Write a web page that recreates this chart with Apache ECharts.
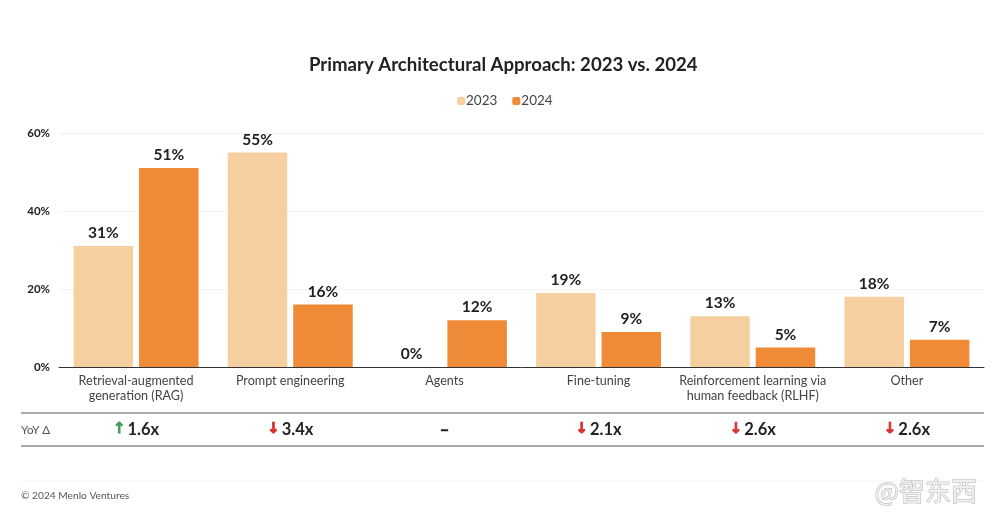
<!DOCTYPE html>
<html>
<head>
<meta charset="utf-8">
<style>html,body{margin:0;padding:0;background:#fff}#main{width:1000px;height:528px}</style>
<script src="https://cdn.jsdelivr.net/npm/echarts@6/dist/echarts.min.js"></script>
</head>
<body>
<div id="main"></div>
<script>
var categories = ['Retrieval-augmented\ngeneration (RAG)', 'Prompt engineering', 'Agents', 'Fine-tuning', 'Reinforcement learning via\nhuman feedback (RLHF)', 'Other'];
var values2023 = [31, 55, 0, 19, 13, 18];
var values2024 = [51, 16, 12, 9, 5, 7];
var yoyLabels = ['{up|↑}{v|1.6x}', '{down|↓}{v|3.4x}', '{dash|–}', '{down|↓}{v|2.1x}', '{down|↓}{v|2.6x}', '{down|↓}{v|2.6x}'];

var font = 'Lato';
var myChart = echarts.init(document.getElementById('main'));

var barLabel = {
    show: true,
    position: 'top',
    distance: 5,
    formatter: '{c}%',
    fontFamily: font,
    fontWeight: 'bold',
    fontSize: 15.5,
    color: '#222'
};

var option = {
    animation: false,
    backgroundColor: '#fff',
    textStyle: { fontFamily: font },
    title: {
        text: 'Primary Architectural Approach: 2023 vs. 2024',
        left: 304,
        top: 50,
        textStyle: { fontFamily: font, fontWeight: 'bold', fontSize: 18.6, color: '#222' }
    },
    legend: {
        top: 89,
        left: 452,
        itemWidth: 8,
        itemHeight: 8,
        itemGap: 15,
        textStyle: { fontFamily: font, fontSize: 13.5, color: '#444', padding: [0, 0, 0, -4] },
        data: ['2023', '2024']
    },
    grid: [
        { left: 59, right: 16, top: 133, height: 234 },
        { left: 59, right: 16, top: 414, height: 32 }
    ],
    xAxis: [{
        type: 'category',
        gridIndex: 0,
        data: categories,
        axisTick: { show: false },
        axisLine: { lineStyle: { color: '#333', width: 1 } },
        axisLabel: { interval: 0, margin: 7, fontFamily: font, fontSize: 12.6, lineHeight: 14.5, color: '#444' }
    }, {
        type: 'category',
        gridIndex: 1,
        data: yoyLabels,
        axisTick: { show: false },
        axisLine: { show: false },
        axisLabel: {
            interval: 0,
            margin: -25,
            formatter: function (v) { return v; },
            rich: {
                v: { fontFamily: font, fontWeight: 'bold', fontSize: 16.5, color: '#222', padding: [0, 0, 0, 2] },
                dash: { fontFamily: font, fontWeight: 'bold', fontSize: 16.5, color: '#222', textBorderColor: '#222', textBorderWidth: 0.6 },
                up: { fontFamily: 'DejaVu Sans', fontWeight: 'bold', fontSize: 15, color: '#3f9a58', textBorderColor: '#3f9a58', textBorderWidth: 0.8 },
                down: { fontFamily: 'DejaVu Sans', fontWeight: 'bold', fontSize: 15, color: '#d9302c', textBorderColor: '#d9302c', textBorderWidth: 0.8 }
            }
        }
    }],
    yAxis: [{
        type: 'value',
        gridIndex: 0,
        min: 0,
        max: 60,
        interval: 20,
        axisLine: { show: false },
        axisTick: { show: false },
        splitLine: { lineStyle: { color: '#f3f3f3', width: 1 } },
        axisLabel: {
            formatter: '{value}%',
            margin: 9,
            fontFamily: font,
            fontWeight: 'bold',
            fontSize: 11.5,
            color: '#222'
        }
    }, {
        type: 'value',
        gridIndex: 1,
        show: false
    }],
    series: [{
        name: '2023',
        type: 'bar',
        data: values2023,
        barWidth: 59.5,
        barGap: '10%',
        itemStyle: { color: '#f6cfa1' },
        label: barLabel
    }, {
        name: '2024',
        type: 'bar',
        data: values2024,
        barWidth: 59.5,
        itemStyle: { color: '#ef8a37' },
        label: barLabel
    }],
    graphic: [
        { type: 'line', shape: { x1: 21, y1: 413, x2: 984, y2: 413 }, style: { stroke: '#555', lineWidth: 1.2 } },
        { type: 'line', shape: { x1: 21, y1: 446, x2: 984, y2: 446 }, style: { stroke: '#555', lineWidth: 1.2 } },
        { type: 'line', shape: { x1: 21, y1: 481, x2: 984, y2: 481 }, style: { stroke: '#f3f3f3', lineWidth: 1 } },
        { type: 'text', left: 21, top: 424, style: { text: 'YoY Δ', fontFamily: font, fontSize: 11.5, fill: '#555' } },
        { type: 'text', left: 21, top: 491, style: { text: '© 2024 Menlo Ventures', fontFamily: font, fontSize: 10.2, fill: '#555' } },
        { type: 'text', left: 874, top: 478, style: { text: '@智东西', fontFamily: 'Noto Sans CJK SC', fontSize: 26, fill: '#f0f0f0', stroke: '#b0b0b0', lineWidth: 1 } }
    ]
};

myChart.setOption(option);
</script>
</body>
</html>
